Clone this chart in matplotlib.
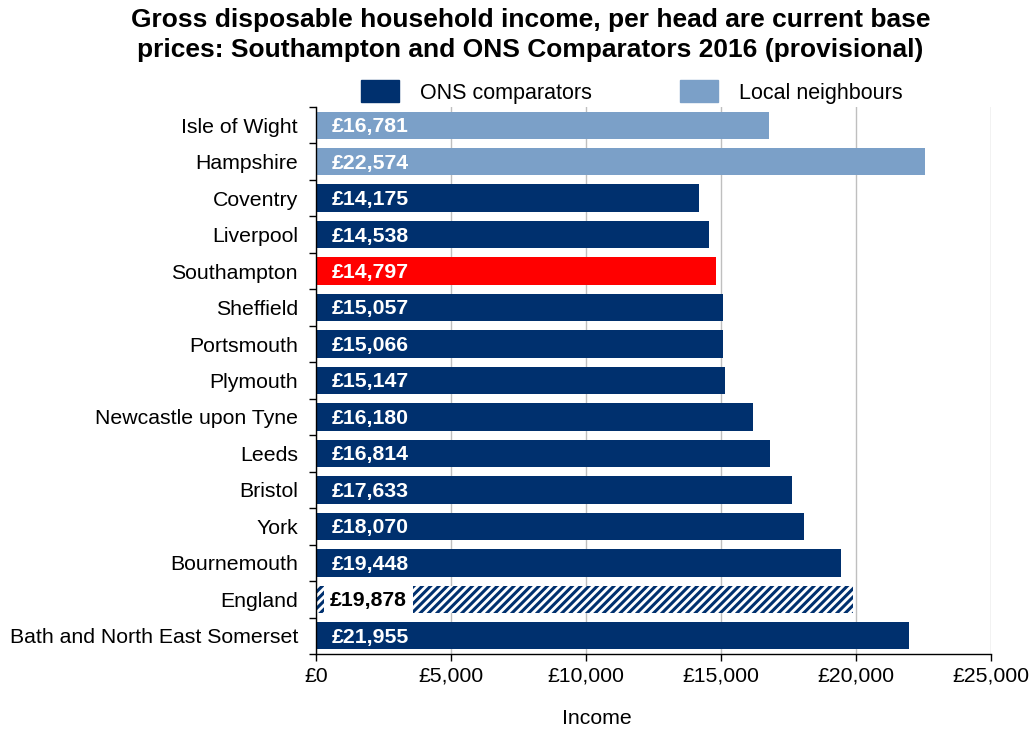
import matplotlib
matplotlib.use('Agg')
import matplotlib.pyplot as plt
from matplotlib.patches import Patch
from matplotlib.ticker import FuncFormatter, MultipleLocator
import numpy as np

plt.rcParams['font.family'] = ['Liberation Sans', 'DejaVu Sans']
plt.rcParams['hatch.linewidth'] = 2.2

# areas, top to bottom
areas = ['Isle of Wight', 'Hampshire', 'Coventry', 'Liverpool', 'Southampton',
         'Sheffield', 'Portsmouth', 'Plymouth', 'Newcastle upon Tyne', 'Leeds',
         'Bristol', 'York', 'Bournemouth', 'England', 'Bath and North East Somerset']
income = [16781, 22574, 14175, 14538, 14797, 15057, 15066, 15147, 16180, 16814,
          17633, 18070, 19448, 19878, 21955]
group = ['local', 'local', 'ons', 'ons', 'home', 'ons', 'ons', 'ons', 'ons', 'ons',
         'ons', 'ons', 'ons', 'england', 'ons']

navy = '#00306E'
light = '#7BA0C8'
red = '#FF0000'
colours = {'local': light, 'ons': navy, 'home': red, 'england': 'white'}

fig = plt.figure(figsize=(10.34, 7.29), dpi=100)
ax = fig.add_axes([316 / 1034, 1 - 654 / 729, 675 / 1034, 547 / 729])

y = np.arange(len(areas))
for i in range(len(areas)):
    g = group[i]
    if g == 'england':
        ax.barh(y[i], income[i], height=0.75, color='white', edgecolor=navy,
                linewidth=0, hatch='////', zorder=2)
        ax.annotate('£{:,}'.format(income[i]), (0, y[i]), xytext=(10, -1),
                    textcoords='offset points', ha='left', va='center',
                    fontsize=15.3, fontweight='bold', color='black', zorder=4,
                    bbox=dict(boxstyle='square,pad=0.3', fc='white', ec='none'))
    else:
        ax.barh(y[i], income[i], height=0.75, color=colours[g], zorder=2)
        ax.annotate('£{:,}'.format(income[i]), (0, y[i]), xytext=(11, -1),
                    textcoords='offset points', ha='left', va='center',
                    fontsize=15.3, fontweight='bold', color='white', zorder=4)

ax.set_xlim(0, 25000)
ax.set_ylim(len(areas) - 0.5, -0.5)
ax.xaxis.set_major_locator(MultipleLocator(5000))
ax.xaxis.set_major_formatter(FuncFormatter(lambda v, p: '£{:,.0f}'.format(v)))
ax.set_yticks(y)
ax.set_yticklabels(areas)
ax.set_yticks(np.arange(-0.5, len(areas)), minor=True)
ax.tick_params(axis='y', which='major', length=0, labelsize=15.3, pad=13)
ax.tick_params(axis='y', which='minor', length=5, width=1)
ax.tick_params(axis='x', length=5, width=1, labelsize=15.3, pad=4)
ax.grid(axis='x', color='#BFBFBF', linewidth=1, zorder=0)
ax.set_axisbelow(True)
for s in ['top', 'right']:
    ax.spines[s].set_visible(False)
ax.spines['left'].set_linewidth(1)
ax.spines['bottom'].set_linewidth(1)

ax.set_xlabel('Income', fontsize=15.3)
ax.xaxis.set_label_coords(0.416, -0.1)

fig.text(0.513, 1 - 8 / 729,
         'Gross disposable household income, per head are current base\n'
         'prices: Southampton and ONS Comparators 2016 (provisional)',
         ha='center', va='top', fontsize=19, fontweight='bold', linespacing=1.3)

handles = [Patch(color=navy, label='ONS comparators'),
           Patch(color=light, label='Local neighbours')]
fig.legend(handles=handles, loc='center', bbox_to_anchor=(632 / 1034, 1 - 92 / 729),
           ncol=2, frameon=False, fontsize=15.5, handlelength=1.75, handleheight=1.2,
           handletextpad=1.0, columnspacing=4.1)

fig.savefig('out.png', dpi=100)
